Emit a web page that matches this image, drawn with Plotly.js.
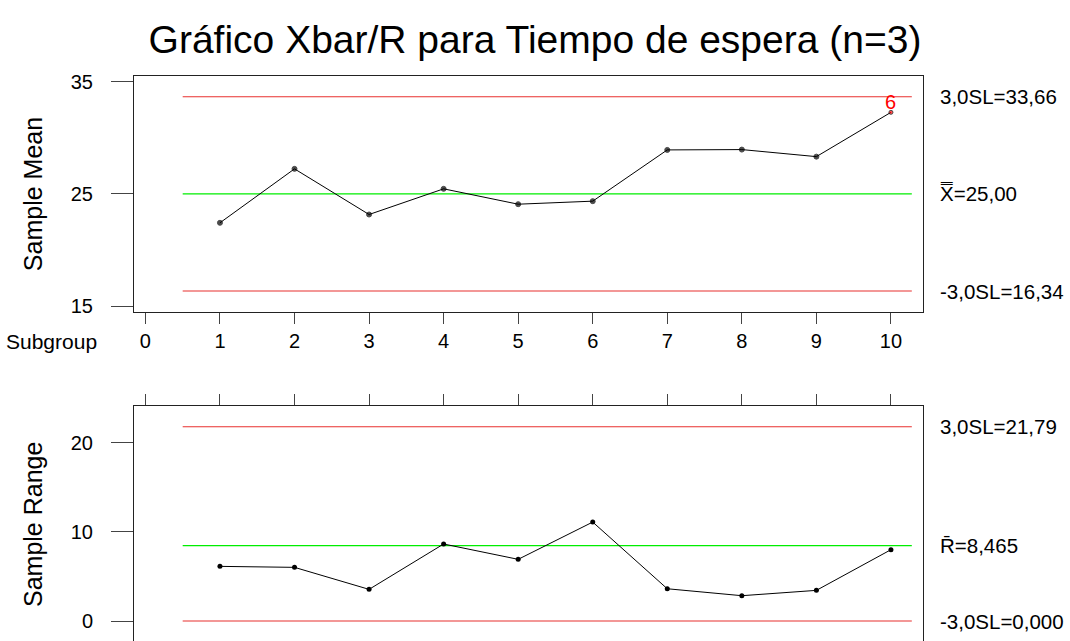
<!DOCTYPE html>
<html>
<head>
<meta charset="utf-8">
<script src="https://cdn.plot.ly/plotly-3.0.1.min.js"></script>
<style>
  html, body { margin: 0; padding: 0; overflow: hidden; background: #fff; }
  #chart { width: 1070px; height: 680px; }
</style>
</head>
<body>
<div id="chart"></div>
<script>
// Subgroup numbers and the statistics plotted for each subgroup
const subgroups = [1, 2, 3, 4, 5, 6, 7, 8, 9, 10];
const sampleMeans = [22.42, 27.23, 23.16, 25.45, 24.08, 24.35, 28.92, 28.95, 28.32, 32.27];
const sampleRanges = [6.13, 6.02, 3.55, 8.64, 6.92, 11.10, 3.62, 2.84, 3.44, 8.00];

// Control limits (Xbar chart and R chart)
const xbarLimits = { ucl: 33.66, center: 25.00, lcl: 16.34 };
const rangeLimits = { ucl: 21.79, center: 8.465, lcl: 0.000 };

// Limit labels shown to the right of each chart
const xbarLimitLabels = ['3,0SL=33,66', 'X\u033F=25,00', '-3,0SL=16,34'];
const rangeLimitLabels = ['3,0SL=21,79', 'R\u0304=8,465', '-3,0SL=0,000'];

// Subgroups that fail a test, with the test number
const xbarFlags = [{ subgroup: 10, test: '6' }];

const xTicks = [0, 1, 2, 3, 4, 5, 6, 7, 8, 9, 10];
const meanTicks = [15, 25, 35];
const rangeTicks = [0, 10, 20];

const FONT = 'Liberation Sans, Arial, Helvetica, sans-serif';
const limitSpan = [0.5, 10.28];

function hline(y, color, xa, ya) {
  return {
    x: limitSpan, y: [y, y], xaxis: xa, yaxis: ya,
    mode: 'lines', line: { color: color, width: 1.2 },
    hoverinfo: 'skip', showlegend: false
  };
}

const flagged = new Set(xbarFlags.map(f => f.subgroup));
const meanColors = subgroups.map(s => flagged.has(s) ? '#ff0000' : '#000000');
const meanSizes = subgroups.map(s => flagged.has(s) ? 4 : 5);

const traces = [
  hline(xbarLimits.ucl, '#e8302f', 'x', 'y'),
  hline(xbarLimits.center, '#00ee00', 'x', 'y'),
  hline(xbarLimits.lcl, '#e8302f', 'x', 'y'),
  {
    x: subgroups, y: sampleMeans, xaxis: 'x', yaxis: 'y',
    mode: 'lines+markers',
    line: { color: '#000', width: 1 },
    marker: { color: meanColors, size: meanSizes, symbol: 'circle' },
    showlegend: false
  },
  hline(rangeLimits.ucl, '#e8302f', 'x2', 'y2'),
  hline(rangeLimits.center, '#00ee00', 'x2', 'y2'),
  hline(rangeLimits.lcl, '#e8302f', 'x2', 'y2'),
  {
    x: subgroups, y: sampleRanges, xaxis: 'x2', yaxis: 'y2',
    mode: 'lines+markers',
    line: { color: '#000', width: 1 },
    marker: { color: '#000', size: 5, symbol: 'circle' },
    showlegend: false
  }
];

const xRange = [-0.153, 10.43];
const topDomain = [0.5883, 1];
const bottomDomain = [0, 0.4251];

const baseX = {
  range: xRange, tickmode: 'array', tickvals: xTicks,
  ticks: 'outside', ticklen: 11, tickcolor: '#444', tickwidth: 1,
  showline: true, linecolor: '#222', linewidth: 1, mirror: true,
  showgrid: false, zeroline: false,
  tickfont: { family: FONT, size: 20, color: '#000' }
};
const baseY = {
  ticks: 'outside', ticklen: 22, tickcolor: '#444', tickwidth: 1,
  showline: true, linecolor: '#222', linewidth: 1, mirror: true,
  showgrid: false, zeroline: false, tickmode: 'array',
  ticklabelstandoff: 14,
  tickfont: { family: FONT, size: 20, color: '#000' }
};

const annotations = [];
function limitLabel(text, y, xa, ya) {
  annotations.push({
    text: text, x: xRange[1], y: y, xref: xa, yref: ya,
    xanchor: 'left', yanchor: 'middle', xshift: 15, showarrow: false,
    font: { family: FONT, size: 20.5, color: '#000' }
  });
}
limitLabel(xbarLimitLabels[0], xbarLimits.ucl, 'x', 'y');
limitLabel(xbarLimitLabels[1], xbarLimits.center, 'x', 'y');
limitLabel(xbarLimitLabels[2], xbarLimits.lcl, 'x', 'y');
limitLabel(rangeLimitLabels[0], rangeLimits.ucl, 'x2', 'y2');
limitLabel(rangeLimitLabels[1], rangeLimits.center, 'x2', 'y2');
limitLabel(rangeLimitLabels[2], rangeLimits.lcl, 'x2', 'y2');

xbarFlags.forEach(f => {
  annotations.push({
    text: f.test, x: f.subgroup, y: sampleMeans[subgroups.indexOf(f.subgroup)],
    xref: 'x', yref: 'y', showarrow: false, yanchor: 'middle', yshift: 10,
    font: { family: FONT, size: 20, color: '#ff0000' }
  });
});

// Axis titles drawn beside each panel
annotations.push({
  text: 'Sample Mean', textangle: -90, xref: 'paper', yref: 'paper',
  x: 0, xshift: -101, y: (topDomain[0] + topDomain[1]) / 2,
  xanchor: 'center', yanchor: 'middle', showarrow: false,
  font: { family: FONT, size: 25, color: '#000' }
});
annotations.push({
  text: 'Sample Range', textangle: -90, xref: 'paper', yref: 'paper',
  x: 0, xshift: -101, y: 0.4251 - (525 - 406) / 574,
  xanchor: 'center', yanchor: 'middle', showarrow: false,
  font: { family: FONT, size: 25, color: '#000' }
});
annotations.push({
  text: 'Subgroup', xref: 'paper', yref: 'paper',
  x: 0, xshift: -35, y: topDomain[0], yshift: -29,
  xanchor: 'right', yanchor: 'middle', showarrow: false,
  font: { family: FONT, size: 21, color: '#000' }
});

const layout = {
  width: 1070, height: 680,
  margin: { l: 134, r: 147, t: 76, b: 30, pad: 0 },
  paper_bgcolor: '#fff', plot_bgcolor: '#fff',
  font: { family: FONT, color: '#000' },
  title: {
    text: 'Gráfico Xbar/R para Tiempo de espera (n=3)',
    font: { family: FONT, size: 39, color: '#000' },
    x: 0.5, xref: 'container', xanchor: 'center',
    y: 1 - 39 / 680, yref: 'container', yanchor: 'middle'
  },
  xaxis: Object.assign({}, baseX, { domain: [0, 1], anchor: 'y', side: 'bottom', showticklabels: true, ticklabelstandoff: 0 }),
  yaxis: Object.assign({}, baseY, { domain: topDomain, anchor: 'x', range: [14.44, 35.51], tickvals: meanTicks }),
  xaxis2: Object.assign({}, baseX, { domain: [0, 1], anchor: 'y2', side: 'top', showticklabels: false }),
  yaxis2: Object.assign({}, baseY, { domain: bottomDomain, anchor: 'x2', range: [-3.25, 24.12], tickvals: rangeTicks }),
  annotations: annotations,
  showlegend: false
};

Plotly.newPlot('chart', traces, layout, { staticPlot: true, displayModeBar: false });
</script>
</body>
</html>
